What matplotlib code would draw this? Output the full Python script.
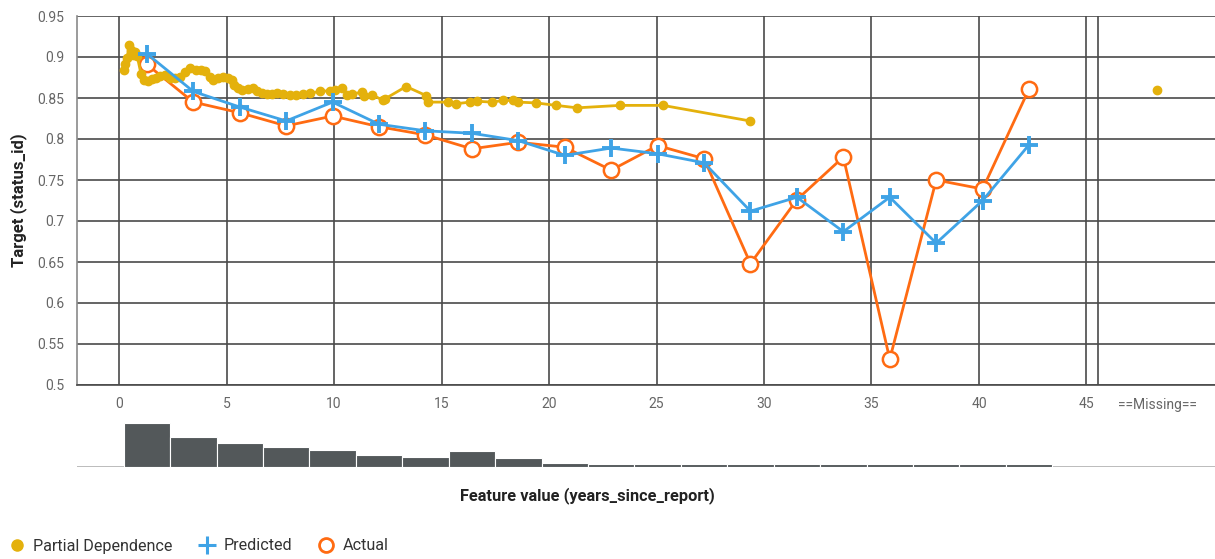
import matplotlib
matplotlib.use("Agg")
import matplotlib.pyplot as plt
from matplotlib.lines import Line2D

plt.rcParams["font.family"] = ["Roboto", "DejaVu Sans"]

# ---- data -------------------------------------------------------------
bin_centers = [1.29, 3.45, 5.61, 7.77, 9.93, 12.09, 14.25, 16.41, 18.57, 20.73,
               22.89, 25.05, 27.21, 29.37, 31.53, 33.69, 35.85, 38.01, 40.17, 42.33]
bin_width = 2.16
bin_counts = [133, 91, 74, 60, 51, 36, 30, 48, 27, 13,
              9, 8, 8, 8, 8, 8, 8, 8, 8, 8]

predicted = [0.904, 0.858, 0.839, 0.822, 0.845, 0.818, 0.810, 0.807, 0.798, 0.780,
             0.789, 0.782, 0.771, 0.712, 0.729, 0.687, 0.729, 0.673, 0.725, 0.793]
actual = [0.891, 0.845, 0.832, 0.816, 0.828, 0.815, 0.805, 0.788, 0.796, 0.790,
          0.762, 0.792, 0.776, 0.648, 0.726, 0.778, 0.5315, 0.750, 0.739, 0.861]

pd_x = [0.21, 0.28, 0.37, 0.47, 0.56, 0.65, 0.74, 0.84, 1.02, 1.16, 1.35, 1.53, 1.72,
        1.91, 2.14, 2.37, 2.60, 2.84, 3.07, 3.30, 3.58, 3.81, 4.00, 4.23, 4.37, 4.60,
        4.84, 5.07, 5.26, 5.35, 5.53, 5.72, 6.00, 6.23, 6.42, 6.65, 6.88, 7.12, 7.35,
        7.63, 7.95, 8.23, 8.56, 8.88, 9.35, 9.81, 10.05, 10.37, 10.60, 10.84, 11.30,
        11.40, 11.77, 12.28, 12.37, 13.35, 14.28, 14.37, 15.30, 15.67, 16.33, 16.65,
        17.35, 17.86, 18.33, 18.56, 19.40, 20.33, 21.30, 23.30, 25.30, 29.35]
pd_y = [0.884, 0.892, 0.899, 0.915, 0.909, 0.903, 0.906, 0.901, 0.879, 0.872, 0.871,
        0.873, 0.875, 0.877, 0.878, 0.875, 0.875, 0.876, 0.882, 0.886, 0.884, 0.884,
        0.883, 0.876, 0.872, 0.874, 0.876, 0.875, 0.872, 0.866, 0.862, 0.860, 0.861,
        0.862, 0.859, 0.856, 0.855, 0.855, 0.856, 0.855, 0.854, 0.854, 0.855, 0.856,
        0.858, 0.859, 0.860, 0.862, 0.854, 0.855, 0.857, 0.852, 0.854, 0.847, 0.849,
        0.864, 0.853, 0.845, 0.845, 0.843, 0.845, 0.846, 0.845, 0.847, 0.847, 0.845,
        0.844, 0.841, 0.838, 0.841, 0.841, 0.822]
pd_missing = 0.860

x_ticks = [0, 5, 10, 15, 20, 25, 30, 35, 40, 45]
y_ticks = [0.5, 0.55, 0.6, 0.65, 0.7, 0.75, 0.8, 0.85, 0.9, 0.95]
missing_label = "==Missing=="

# ---- layout -----------------------------------------------------------
W, H = 1215, 559
fig = plt.figure(figsize=(W / 100, H / 100), dpi=100)

x_min, x_max = -1.96, 50.98
missing_split = 45.55
missing_x = 48.3

YELLOW = "#e4b10c"
BLUE = "#3fa3e6"
ORANGE = "#ff6b12"
GRID = "#4a4a4a"
TICK = "#666666"

ax = fig.add_axes([77 / W, 1 - 385 / H, 1 - 77 / W, (385 - 16) / H])
ax.set_xlim(x_min, x_max)
ax.set_ylim(0.5, 0.95)

for yv in y_ticks:
    ax.axhline(yv, color=GRID, lw=1.2, zorder=1)
for xv in x_ticks:
    ax.axvline(xv, color=GRID, lw=1.2, zorder=1)
ax.axvline(missing_split, color=GRID, lw=1.2, zorder=1)

for s in ["top", "right"]:
    ax.spines[s].set_visible(False)
ax.spines["left"].set_color("#8a8a8a")
ax.spines["left"].set_linewidth(1.2)
ax.spines["bottom"].set_color(GRID)
ax.spines["bottom"].set_linewidth(1.2)

ax.set_yticks(y_ticks)
ax.set_yticklabels([f"{v:g}" for v in y_ticks])
ax.set_xticks(x_ticks + [missing_x])
ax.set_xticklabels([str(v) for v in x_ticks] + [missing_label])
ax.tick_params(axis="both", length=0, colors=TICK, labelsize=10)
ax.tick_params(axis="x", pad=9)
ax.tick_params(axis="y", pad=9)
ax.set_ylabel("Target (status_id)", fontsize=12, fontweight="bold",
              color="#222222", labelpad=8)

ax.plot(bin_centers, actual, color=ORANGE, lw=2, marker="o", ms=11,
        mfc="white", mec=ORANGE, mew=1.8, zorder=3)
ax.plot(pd_x, pd_y, color=YELLOW, lw=2, marker="o", ms=6, mec=YELLOW, zorder=4)
ax.plot([missing_x], [pd_missing], color=YELLOW, marker="o", ms=6, ls="none", zorder=4)
ax.plot(bin_centers, predicted, color=BLUE, lw=2, marker="+", ms=13, mew=2.8,
        zorder=5)

# ---- histogram --------------------------------------------------------
hax = fig.add_axes([77 / W, 1 - 467 / H, 1 - 77 / W, 44 / H])
hax.set_xlim(x_min, x_max)
hax.set_ylim(0, max(bin_counts))
hax.bar(bin_centers, bin_counts, width=bin_width, color="#53585a",
        edgecolor="white", linewidth=0.8, zorder=2)
hax.axhline(0, color="#b0b0b0", lw=1.2, zorder=1)
hax.axis("off")

fig.text(587 / W, 1 - 496 / H, "Feature value (years_since_report)",
         ha="center", va="center", fontsize=11.8, fontweight="bold", color="#222222")

# ---- legend -----------------------------------------------------------
handles = [
    Line2D([], [], ls="none", marker="o", ms=8, color=YELLOW, label="Partial Dependence"),
    Line2D([], [], ls="none", marker="+", ms=13, mew=2.2, color=BLUE, label="Predicted"),
    Line2D([], [], ls="none", marker="o", ms=10, mfc="white", mec=ORANGE, mew=2,
           label="Actual"),
]
leg = fig.legend(handles=handles, loc="center left", bbox_to_anchor=(0.0, 1 - 546 / H),
                 ncol=3, frameon=False, fontsize=11.6, handlelength=0.9,
                 handletextpad=0.55, columnspacing=1.7, borderaxespad=0.2)
for t in leg.get_texts():
    t.set_color("#333333")

fig.savefig("out.png", dpi=100)
